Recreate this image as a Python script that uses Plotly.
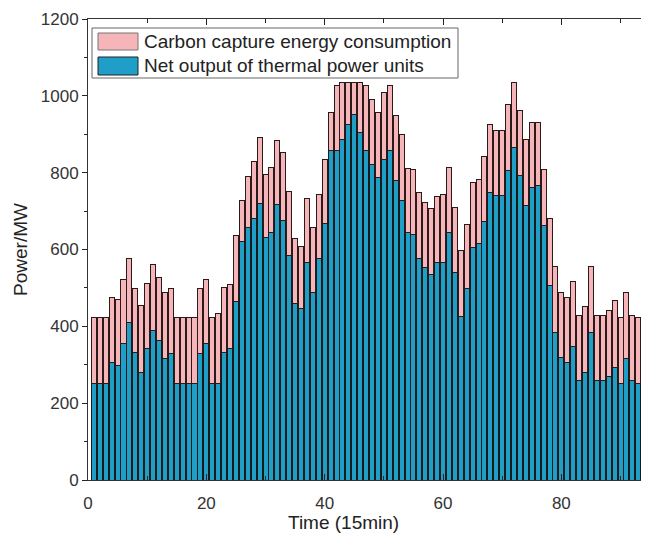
import plotly.graph_objects as go

time = list(range(1, 97))

net_output = [252, 252, 252, 307, 299, 355, 411, 333, 281, 342,
              390, 364, 316, 329, 252, 252, 252, 252, 330, 355,
              252, 252, 333, 343, 464, 621, 657, 680, 721, 630,
              645, 717, 676, 584, 459, 446, 567, 489, 576, 667,
              857, 859, 887, 926, 952, 905, 859, 822, 788, 835,
              857, 779, 727, 645, 639, 576, 554, 535, 567, 567,
              645, 541, 426, 498, 606, 615, 674, 749, 740, 740,
              805, 866, 792, 714, 762, 766, 662, 506, 383, 320,
              307, 348, 260, 281, 385, 260, 260, 270, 294, 251,
              316, 260, 251, 251, 251, 251]

capture = [172, 172, 172, 169, 170, 166, 165, 165, 174, 170,
           171, 164, 171, 169, 172, 172, 172, 172, 168, 166,
           171, 182, 169, 167, 173, 106, 133, 150, 171, 165,
           169, 166, 177, 167, 169, 162, 167, 169, 168, 166,
           100, 167, 148, 109, 83, 130, 167, 169, 169, 174,
           169, 169, 172, 165, 168, 173, 169, 171, 171, 176,
           169, 169, 171, 167, 169, 168, 168, 177, 169, 169,
           173, 169, 171, 173, 169, 165, 145, 174, 173, 169,
           169, 170, 169, 171, 171, 169, 169, 170, 172, 173,
           171, 169, 173, 173, 173, 173]

series_names = ["Carbon capture energy consumption", "Net output of thermal power units"]
x_title = "Time (15min)"
y_title = "Power/MW"
PINK = "#f6b5b8"
BLUE = "#1f9ec8"

# page body has an 8px margin, so the figure is sized to fit the window
OFF = 8
W, H = 641, 527
L, R, T, B = 80, 0, 11, 55

fig = go.Figure()
fig.add_trace(go.Bar(x=time, y=net_output, name=series_names[1],
                     marker=dict(color=BLUE, line=dict(color="#1a1a1a", width=1)),
                     showlegend=False))
fig.add_trace(go.Bar(x=time, y=capture, name=series_names[0],
                     marker=dict(color=PINK, line=dict(color="#2a1a1a", width=1)),
                     showlegend=False))

pw = W - L - R
ph = H - T - B
def px(x):
    return (x - OFF - L) / pw
def py(y):
    return (H - B - (y - OFF)) / ph

shapes = [
    dict(type="rect", xref="paper", yref="paper", x0=px(92), x1=px(458), y0=py(78), y1=py(28),
         fillcolor="white", line=dict(color="#666", width=1)),
    dict(type="rect", xref="paper", yref="paper", x0=px(98), x1=px(138), y0=py(50), y1=py(33),
         fillcolor=PINK, line=dict(color="#777", width=1)),
    dict(type="rect", xref="paper", yref="paper", x0=px(98), x1=px(138), y0=py(75), y1=py(57),
         fillcolor=BLUE, line=dict(color="#222", width=1)),
]
annotations = [
    dict(xref="paper", yref="paper", x=px(142), y=py(41), text=series_names[0], showarrow=False,
         xanchor="left", yanchor="middle", font=dict(size=19, color="#222")),
    dict(xref="paper", yref="paper", x=px(142), y=py(66), text=series_names[1], showarrow=False,
         xanchor="left", yanchor="middle", font=dict(size=19, color="#222")),
    dict(xref="paper", yref="paper", x=px(343), y=py(522), text=x_title, showarrow=False,
         xanchor="center", yanchor="middle", font=dict(size=19, color="#222")),
]

fig.update_layout(
    width=W, height=H,
    margin=dict(l=L, r=R, t=T, b=B, autoexpand=False),
    paper_bgcolor="white", plot_bgcolor="white",
    barmode="stack", bargap=0.15,
    font=dict(family="Liberation Sans, Arial, sans-serif", size=17, color="#333"),
    shapes=shapes, annotations=annotations,
    xaxis=dict(range=[0, (W - L) / 5.917], tickmode="array", tickvals=[0, 20, 40, 60, 80],
               automargin=False, ticklabelstandoff=8,
               ticks="inside", ticklen=6, tickcolor="#222", showgrid=False, zeroline=False,
               showline=True, linecolor="#333", linewidth=1, mirror="ticks",
               minor=dict(tickvals=[10, 30, 50, 70, 90], ticks="inside", ticklen=4, tickcolor="#222"),
               tickfont=dict(size=17)),
    yaxis=dict(range=[0, 1200], dtick=200, ticks="outside", ticklen=5, tickcolor="#222",
               automargin=False,
               showgrid=False, zeroline=False, showline=True, linecolor="#333", linewidth=1,
               minor=dict(dtick=100, ticks="outside", ticklen=3, tickcolor="#222"),
               title=dict(text=y_title, font=dict(size=19, color="#222"), standoff=8),
               tickfont=dict(size=17)),
)

fig.write_html("out.html")
